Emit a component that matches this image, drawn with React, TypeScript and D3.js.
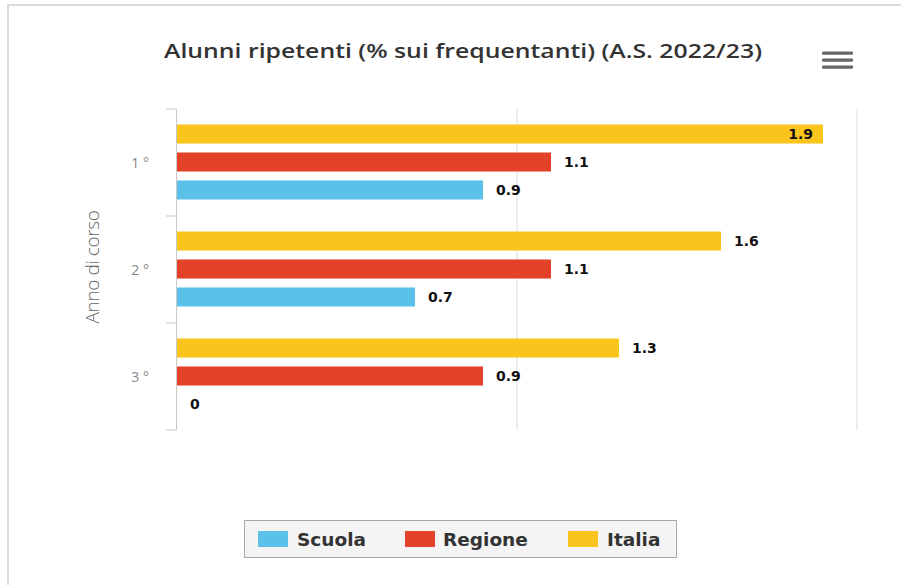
import React from 'react';
import * as d3 from 'd3';

const categories = ['1 °', '2 °', '3 °'];
const seriesNames = ['Scuola', 'Regione', 'Italia'];
const scuola = [0.9, 0.7, 0];
const regione = [1.1, 1.1, 0.9];
const italia = [1.9, 1.6, 1.3];
const xTicks = [0, 1, 2];

const colors: Record<string, string> = {
  Scuola: '#5CC1E8',
  Regione: '#E3412A',
  Italia: '#F9C41C',
};

const W = 901;
const H = 585;

const App: React.FC = () => {
  const values: Record<string, number[]> = { Scuola: scuola, Regione: regione, Italia: italia };

  const x = d3.scaleLinear().domain([0, 2]).range([177, 857]);
  const y = d3.scaleBand<string>().domain(categories).range([109, 430]);
  // bars are drawn top to bottom: Italia, Regione, Scuola
  const inner = d3.scaleBand<string>()
    .domain(['Italia', 'Regione', 'Scuola'])
    .range([-38, 37])
    .paddingInner(0.32);

  const boundaries = categories.map(c => y(c) as number).concat([y.range()[1]]);

  const legendItems = [
    { name: 'Scuola', sx: 258, tx: 297 },
    { name: 'Regione', sx: 405, tx: 443 },
    { name: 'Italia', sx: 568, tx: 607 },
  ];

  return (
    <svg width={W} height={H} style={{ position: 'absolute', left: 0, top: 0, background: '#fff' }}>
      <rect x={8} y={5} width={W + 20} height={H + 20} fill="#fff" stroke="#d0d0d0" strokeWidth={1.5} />

      <text x={164} y={58} textLength={598} lengthAdjust="spacingAndGlyphs"
        fontFamily="'Open Sans', sans-serif" fontWeight={600} fontSize={19.5} fill="#333">
        Alunni ripetenti (% sui frequentanti) (A.S. 2022/23)
      </text>

      <g fill="#666">
        {[53, 60, 67].map(yy => (
          <rect key={yy} x={822} y={yy - 1.5} width={31} height={3.2} rx={1} />
        ))}
      </g>

      {/* grid lines */}
      {xTicks.filter(t => t > 0).map(t => (
        <line key={t} x1={x(t)} x2={x(t)} y1={109} y2={430} stroke="#dcdcdc" strokeWidth={1} />
      ))}

      {/* category axis */}
      <line x1={176.5} x2={176.5} y1={109} y2={430} stroke="#c8c8c8" strokeWidth={1} />
      {boundaries.map((b, i) => (
        <line key={i} x1={166} x2={176.5} y1={b} y2={b} stroke="#c8c8c8" strokeWidth={1} />
      ))}
      {categories.map(c => (
        <text key={c} x={149} y={(y(c) as number) + y.bandwidth() / 2 + 5} textAnchor="end"
          fontFamily="'Open Sans', sans-serif" fontSize={14} fill="#888">
          {c}
        </text>
      ))}
      <text transform={`translate(99,267) rotate(-90)`} textAnchor="middle"
        fontFamily="'Open Sans', sans-serif" fontWeight={300} fontSize={19} fill="#666"
        style={{ letterSpacing: '-0.4px' }}>
        Anno di corso
      </text>

      {/* bars */}
      {categories.map((c, ci) => {
        const center = (y(c) as number) + y.bandwidth() / 2;
        return (
          <g key={c}>
            {seriesNames.map(s => {
              const v = values[s][ci];
              const by = center + (inner(s) as number);
              const bw = x(v) - x(0);
              const inside = bw > 600;
              return (
                <g key={s}>
                  {v > 0 && (
                    <rect x={x(0)} y={by} width={bw} height={inner.bandwidth()} fill={colors[s]} />
                  )}
                  <text
                    x={inside ? x(v) - 10 : x(v) + 13}
                    y={by + inner.bandwidth() / 2 + 5}
                    textAnchor={inside ? 'end' : 'start'}
                    fontFamily="'DejaVu Sans', sans-serif"
                    fontWeight={700}
                    fontSize={14}
                    fill="#111">
                    {v}
                  </text>
                </g>
              );
            })}
          </g>
        );
      })}

      {/* legend */}
      <rect x={244.5} y={520.5} width={432} height={37} fill="#f4f4f4" stroke="#a8a8a8" strokeWidth={1} />
      {legendItems.map(it => (
        <g key={it.name}>
          <rect x={it.sx} y={531} width={30} height={16} fill={colors[it.name]} />
          <text x={it.tx} y={546} fontFamily="'DejaVu Sans', sans-serif" fontWeight={700}
            fontSize={18.5} fill="#333">
            {it.name}
          </text>
        </g>
      ))}
    </svg>
  );
};

export default App;
